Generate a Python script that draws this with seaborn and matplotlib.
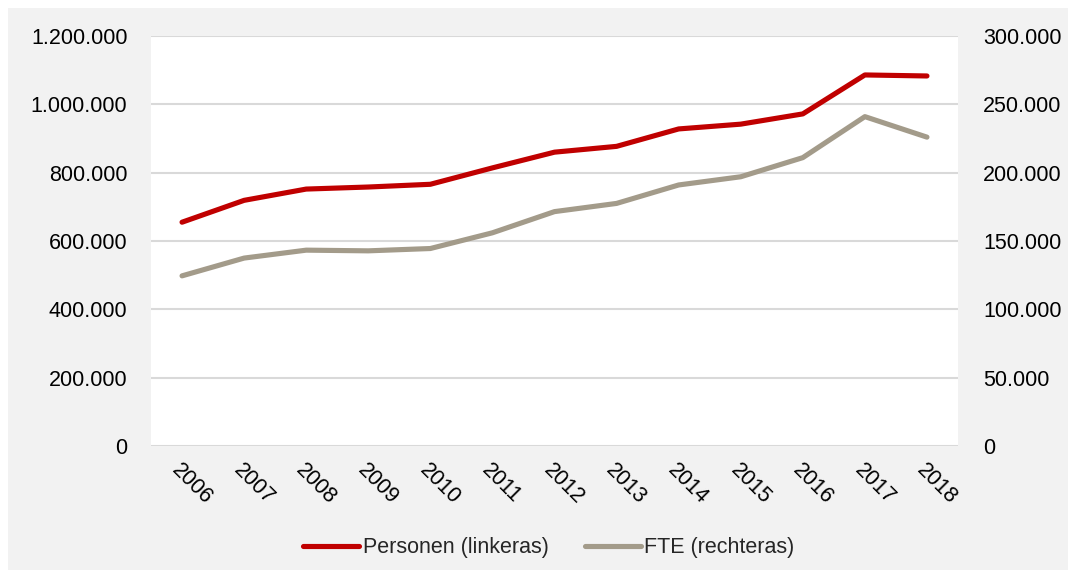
import matplotlib
matplotlib.use("Agg")
import matplotlib.pyplot as plt
import matplotlib.ticker as mticker
from matplotlib.lines import Line2D
from matplotlib.patches import Rectangle
import seaborn as sns
import pandas as pd

# Werkgelegenheid: personen (linkeras) en FTE (rechteras)
years = [2006, 2007, 2008, 2009, 2010, 2011, 2012, 2013, 2014, 2015, 2016, 2017, 2018]
personen = [655000, 719000, 752000, 758000, 766000, 814000, 860000, 877000, 928000,
            942000, 972000, 1086000, 1083000]
fte = [124500, 137500, 143300, 142800, 144500, 156000, 171500, 177500, 191000,
       197000, 211000, 241000, 226000]

left_ticks = [0, 200000, 400000, 600000, 800000, 1000000, 1200000]
right_ticks = [0, 50000, 100000, 150000, 200000, 250000, 300000]

RED = "#c00000"
TAUPE = "#a39b8a"
GRID = "#d9d9d9"
BG = "#f2f2f2"
FS = 15.5

sns.set_theme(style="white")
plt.rcParams["font.family"] = ["Liberation Sans", "DejaVu Sans"]

df = pd.DataFrame({"jaar": years, "personen": personen, "fte": fte})

fig = plt.figure(figsize=(10.72, 5.78), dpi=100, facecolor="white")
fig.patches.append(Rectangle((8 / 1072, 8 / 578), 1060 / 1072, 562 / 578,
                             transform=fig.transFigure, facecolor=BG,
                             edgecolor="none", zorder=-10))

ax = fig.add_axes([151 / 1072, 132 / 578, 807 / 1072, 410 / 578])
ax2 = ax.twinx()

sns.lineplot(data=df, x="jaar", y="personen", ax=ax, color=RED, linewidth=3.7,
             legend=False, solid_capstyle="round")
sns.lineplot(data=df, x="jaar", y="fte", ax=ax2, color=TAUPE, linewidth=3.7,
             legend=False, solid_capstyle="round")

# red series on top, white plot area from the lower (twin) axes
ax.set_zorder(2)
ax2.set_zorder(1)
ax.patch.set_visible(False)
ax2.patch.set_visible(True)
ax2.patch.set_facecolor("white")

ax.set_xlim(years[0] - 0.5, years[-1] + 0.5)
ax.set_ylim(0, 1200000)
ax2.set_ylim(0, 300000)
ax.set_yticks(left_ticks)
ax2.set_yticks(right_ticks)

fmt = mticker.FuncFormatter(lambda v, p: f"{int(v):,}".replace(",", "."))
ax.yaxis.set_major_formatter(fmt)
ax2.yaxis.set_major_formatter(fmt)

ax.set_xticks(years)
ax.set_xticklabels([str(y) for y in years], rotation=-45, ha="left",
                   va="top", rotation_mode="anchor")

for a in (ax, ax2):
    a.set_xlabel("")
    a.set_ylabel("")
    for s in a.spines.values():
        s.set_visible(False)
    a.tick_params(axis="both", length=0, labelsize=FS, colors="black")

ax.tick_params(axis="y", pad=17)
ax2.tick_params(axis="y", pad=18)
ax.tick_params(axis="x", pad=10)

ax.grid(False)
ax2.grid(False)
for t in right_ticks:
    ax2.axhline(t, color=GRID, linewidth=1.5, zorder=0.5)

handles = [Line2D([0], [0], color=RED, linewidth=3.7, solid_capstyle="round"),
           Line2D([0], [0], color=TAUPE, linewidth=3.7, solid_capstyle="round")]
fig.legend(handles, ["Personen (linkeras)", "FTE (rechteras)"],
           loc="center", bbox_to_anchor=(549 / 1072, 1 - 548 / 578), ncol=2,
           frameon=False, fontsize=FS, handlelength=2.6, handletextpad=0.15,
           columnspacing=1.7, borderpad=0, borderaxespad=0)

fig.savefig("out.png", dpi=100, facecolor="white")
